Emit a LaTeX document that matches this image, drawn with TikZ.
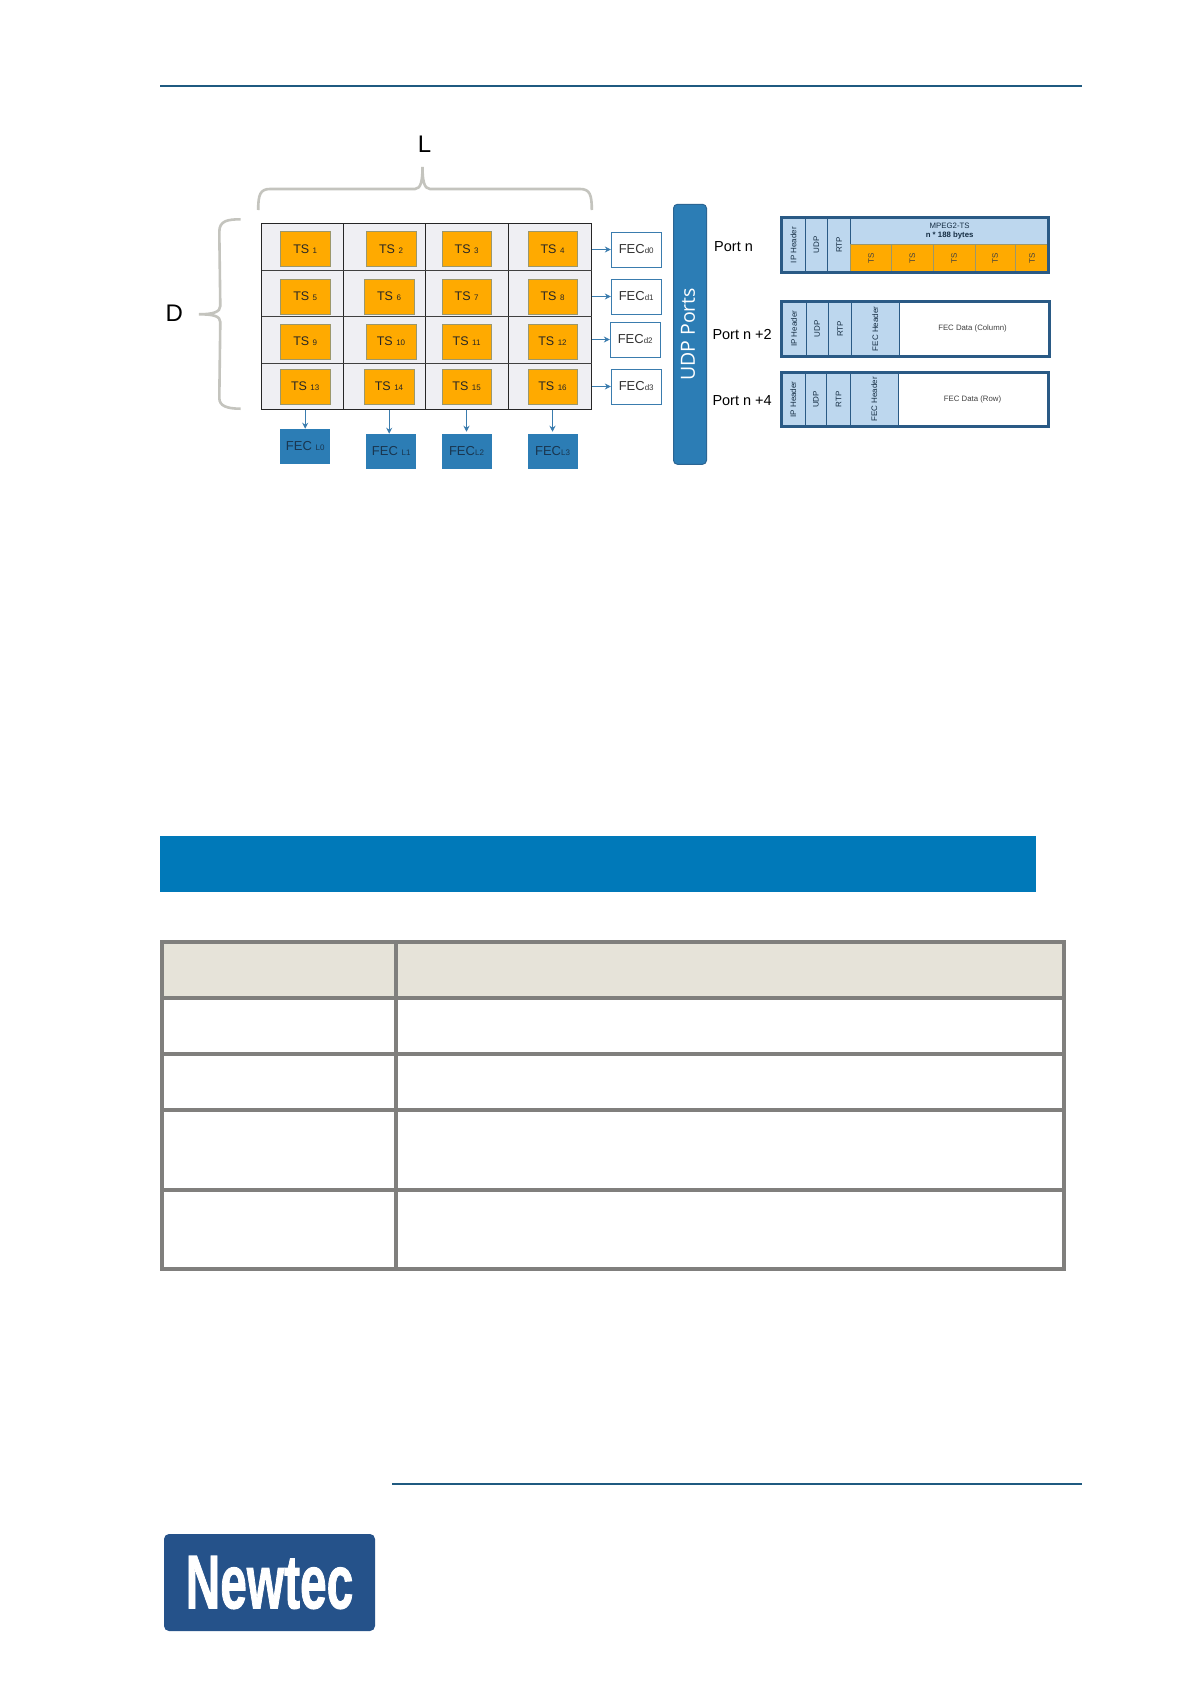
\documentclass[tikz,border=0pt]{standalone}
\usepackage{fontspec}
\setmainfont{Liberation Sans}
\newfontfamily\portsfont{Open Sans}
\newfontfamily\logofont[FakeBold=1.5]{Liberation Sans}
\usetikzlibrary{arrows.meta}
\definecolor{rulecol}{HTML}{1F5A80}
\definecolor{bandcol}{HTML}{0079B9}
\definecolor{tablecol}{HTML}{807F7D}
\definecolor{headcol}{HTML}{E6E3D9}
\definecolor{bracecol}{HTML}{C4C4BE}
\definecolor{gridcol}{HTML}{EFEFF3}
\definecolor{tscol}{HTML}{FFAA00}
\definecolor{fecblue}{HTML}{2C7DB5}
\definecolor{arrowcol}{HTML}{3A7CAE}
\definecolor{framecol}{HTML}{2A5A85}
\definecolor{cellblue}{HTML}{BDD7EE}
\definecolor{logocol}{HTML}{25528A}
\newcommand{\fs}[1]{\fontsize{#1}{#1}\selectfont}
\newcommand{\sm}[1]{{\fs{8}#1}}
\tikzset{
  tsbox/.style={draw=black!50!olive!60,fill=tscol,minimum width=49.6,minimum height=35,inner sep=0,font=\fs{12.5},text=black!85},
  fecd/.style={draw=arrowcol,fill=white,minimum width=50.3,minimum height=34.4,inner sep=0,font=\fs{13},text=black!80},
  fecl/.style={fill=fecblue,minimum width=50,minimum height=34.7,inner sep=0,font=\fs{13},text=framecol!60!black},
  portlabel/.style={anchor=west,inner sep=0,font=\fs{14.5}},
  arr/.style={-{Stealth[length=6pt,width=6pt]},arrowcol,line width=1pt},
  framebox/.style={draw=framecol,line width=3pt,minimum width=267.5,minimum height=#1,inner sep=0},
  pkcell/.style={rotate=90,draw=framecol,line width=1pt,fill=cellblue,minimum width=54.7,minimum height=#1,inner sep=0,font=\fs{8},text=framecol!50!black},
  tscell/.style={rotate=90,draw=black!50!olive!60,line width=0.5pt,fill=tscol,minimum width=28.3,minimum height=#1,inner sep=0,font=\fs{8},text=black!75},
  datacell/.style={inner sep=0,font=\fs{7.8},text=black!75},
}
\begin{document}
\begin{tikzpicture}[x=1pt,y=-1pt]
  \useasboundingbox (0,0) rectangle (1190,1684);
  \fill[white] (0,0) rectangle (1190,1684);
  % page furniture
  \draw[rulecol,line width=2pt] (160,86) -- (1081.5,86);
  \draw[rulecol,line width=2pt] (392,1484) -- (1081.5,1484);
  \fill[bandcol] (160,836) rectangle (1036,891.5);
  % table
  \fill[headcol] (162,942) rectangle (1063,997);
  \draw[tablecol,line width=4pt] (162,942) rectangle (1063.5,1269);
  \draw[tablecol,line width=4pt] (396,942) -- (396,1269);
  \draw[tablecol,line width=4pt] (162,998) -- (1063.5,998);
  \draw[tablecol,line width=4pt] (162,1054) -- (1063.5,1054);
  \draw[tablecol,line width=4pt] (162,1110) -- (1063.5,1110);
  \draw[tablecol,line width=4pt] (162,1190) -- (1063.5,1190);
  % logo
  \node[fill=logocol,rounded corners=5pt,minimum width=211,minimum height=97,inner sep=0,text=white] (logo) at (269.5,1582.5) {\scalebox{.63}[1]{\logofont\bfseries\fs{76}Newtec}};
  % braces
  \draw[bracecol,line width=2.6pt] (258.2,210) .. controls (258.2,195) and (260,189) .. (270,189) -- (415,189) .. controls (421,189) and (422.5,180) .. (422.5,167) .. controls (422.5,180) and (424,189) .. (430,189) -- (580,189) .. controls (590,189) and (591.8,195) .. (591.8,210);
  \draw[bracecol,line width=2.6pt] (240.6,219.3) .. controls (227,219.3) and (219.3,221) .. (219.3,232) -- (220.3,306) .. controls (220.3,312) and (213,314.3) .. (199,314.3) .. controls (213,314.3) and (220.3,316) .. (220.3,322) -- (219.3,398) .. controls (219.3,406) and (227,408.7) .. (240.6,408.7);
  \node[inner sep=0,font=\fs{24}] (labelL) at (424.5,144) {L};
  \node[inner sep=0,font=\fs{24}] (labelD) at (174.3,313) {D};
  % grid
  \node[draw=black!85,line width=1pt,fill=gridcol,minimum width=330.2,minimum height=186,inner sep=0] (grid) at (426.7,316.3) {};
  \draw[black!85,line width=1pt] (343.7,223.3) -- (343.7,409.3);
  \draw[black!85,line width=1pt] (425.9,223.3) -- (425.9,409.3);
  \draw[black!85,line width=1pt] (508.3,223.3) -- (508.3,409.3);
  \draw[black!75,line width=1pt] (261.6,270) -- (591.8,270);
  \draw[black!75,line width=1pt] (261.6,316.7) -- (591.8,316.7);
  \draw[black!75,line width=1pt] (261.6,363) -- (591.8,363);
  % TS boxes
  \node[tsbox] (ts1) at (305.2,249) {TS \sm{1}};
  \node[tsbox] (ts2) at (391,249) {TS \sm{2}};
  \node[tsbox] (ts3) at (466.6,249) {TS \sm{3}};
  \node[tsbox] (ts4) at (552.5,249) {TS \sm{4}};
  \node[tsbox] (ts5) at (305.2,296.5) {TS \sm{5}};
  \node[tsbox] (ts6) at (389,296.5) {TS \sm{6}};
  \node[tsbox] (ts7) at (466.6,296.5) {TS \sm{7}};
  \node[tsbox] (ts8) at (552.5,296.5) {TS \sm{8}};
  \node[tsbox] (ts9) at (305.2,341.5) {TS \sm{9}};
  \node[tsbox] (ts10) at (391,341.5) {TS \sm{10}};
  \node[tsbox] (ts11) at (466.6,341.5) {TS \sm{11}};
  \node[tsbox] (ts12) at (552.5,341.5) {TS \sm{12}};
  \node[tsbox] (ts13) at (305.2,386.5) {TS \sm{13}};
  \node[tsbox] (ts14) at (389,386.5) {TS \sm{14}};
  \node[tsbox] (ts15) at (466.6,386.5) {TS \sm{15}};
  \node[tsbox] (ts16) at (552.5,386.5) {TS \sm{16}};
  % FEC boxes
  \node[fecd] (fecd0) at (636.2,249.5) {FEC\sm{d0}};
  \node[fecd] (fecd1) at (636.2,296.5) {FEC\sm{d1}};
  \node[fecd] (fecd2) at (635.2,339.5) {FEC\sm{d2}};
  \node[fecd] (fecd3) at (636.2,386.5) {FEC\sm{d3}};
  \node[fecl] (fecl0) at (305.2,446.3) {FEC \sm{L0}};
  \node[fecl] (fecl1) at (391.2,451.3) {FEC \sm{L1}};
  \node[fecl] (fecl2) at (466.5,451.3) {FEC\sm{L2}};
  \node[fecl] (fecl3) at (552.5,451.3) {FEC\sm{L3}};
  \draw[arr] (fecd0.west -| grid.east) -- (fecd0.west);
  \draw[arr] (fecd1.west -| grid.east) -- (fecd1.west);
  \draw[arr] (fecd2.west -| grid.east) -- (fecd2.west);
  \draw[arr] (fecd3.west -| grid.east) -- (fecd3.west);
  \draw[arr] (fecl0.north |- grid.south) -- (fecl0.north);
  \draw[arr] ([xshift=-2pt]fecl1.north |- grid.south) -- ([xshift=-2pt]fecl1.north);
  \draw[arr,shorten >=2pt] (fecl2.north |- grid.south) -- (fecl2.north);
  \draw[arr,shorten >=2pt] (fecl3.north |- grid.south) -- (fecl3.north);
  % UDP bar
  \node[rotate=90,draw=framecol!70!fecblue,line width=1pt,fill=fecblue,rounded corners=4pt,minimum width=260,minimum height=33,inner sep=0,text depth=4pt,text=white,font=\portsfont\fs{19.5}] (ports) at (690,334.3) {UDP Ports};
  \node[portlabel] (portn) at (714,246.7) {Port n};
  \node[portlabel] (portn2) at (712.3,334.3) {Port n +2};
  \node[portlabel] (portn4) at (712.3,401) {Port n +4};
  % first packet
  \node[pkcell=24] (ip1) at (793.5,245) {IP Header};
  \node[pkcell=22] (udp1) at (816.5,245) {UDP};
  \node[pkcell=23] (rtp1) at (839,245) {RTP};
  \node[draw=framecol,line width=1pt,fill=cellblue,minimum width=198.3,minimum height=27.3,inner sep=0,align=center,font=\fs{7.8},text=framecol!50!black] (mpeg) at (949.65,230.85) {MPEG2-TS\\[1pt]\textbf{n * 188 bytes}};
  \node[tscell=40.8] (pk1) at (871,258.65) {TS};
  \node[tscell=42] (pk2) at (912.3,258.65) {TS};
  \node[tscell=41.7] (pk3) at (954.15,258.65) {TS};
  \node[tscell=40.3] (pk4) at (995.15,258.65) {TS};
  \node[tscell=33.5] (pk5) at (1032.05,258.65) {TS};
  \node[framebox=55.6] (frame1) at (915.15,245) {};
  % second packet
  \node[pkcell=24] (ip2) at (794,328.85) {IP Header};
  \node[pkcell=22.3] (udp2) at (817.15,328.85) {UDP};
  \node[pkcell=23.4] (rtp2) at (840,328.85) {RTP};
  \node[pkcell=47.3] (fech2) at (875.35,328.85) {FEC Header};
  \node[datacell] (data2) at (972.5,328.3) {FEC Data (Column)};
  \node[framebox=54.7] (frame2) at (915.5,328.85) {};
  % third packet
  \node[pkcell=23.5] (ip3) at (793.25,399.5) {IP Header};
  \node[pkcell=21.7] (udp3) at (815.85,399.5) {UDP};
  \node[pkcell=23.6] (rtp3) at (838.5,399.5) {RTP};
  \node[pkcell=47.7] (fech3) at (874.15,399.5) {FEC Header};
  \node[datacell] (data3) at (972.5,399) {FEC Data (Row)};
  \node[framebox=54.7] (frame3) at (915.15,399.5) {};
\end{tikzpicture}
\end{document}
